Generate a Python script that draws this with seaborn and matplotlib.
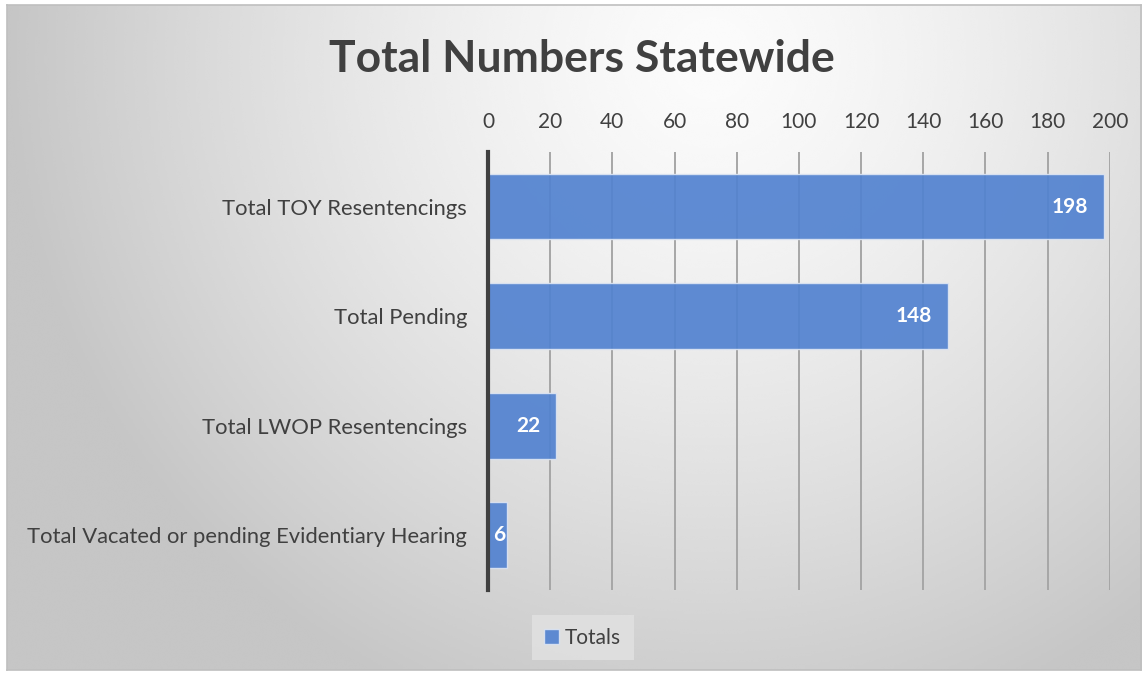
"""Total Numbers Statewide - horizontal bar chart recreated with seaborn."""

import numpy as np
import pandas as pd
import matplotlib.pyplot as plt
import seaborn as sns

categories = [
    "Total TOY Resentencings",
    "Total Pending",
    "Total LWOP Resentencings",
    "Total Vacated or pending Evidentiary Hearing",
]
totals = [198, 148, 22, 6]
series_name = "Totals"
x_ticks = list(range(0, 201, 20))

df = pd.DataFrame({"category": categories, "value": totals})

sns.set_style("white")
plt.rcParams["font.family"] = ["Lato", "DejaVu Sans"]

fig = plt.figure(figsize=(11.47, 6.75), dpi=100)

# radial gradient background: near white around the title, grey at the edges
bg = fig.add_axes([0.006, 0.008, 0.989, 0.984])
h, w = 300, 500
yy, xx = np.mgrid[0:h, 0:w]
dx = xx / w - 0.62
dy = (yy / h - 0.08) * 0.59
d = np.sqrt(dx ** 2 + dy ** 2)
shade = 0.985 - 0.21 * np.clip(d / 0.62, 0, 1) ** 1.4
bg.imshow(shade, cmap="gray", vmin=0, vmax=1, aspect="auto",
          extent=[0, 1, 0, 1], interpolation="bicubic")
bg.set_xticks([])
bg.set_yticks([])
for s in bg.spines.values():
    s.set_color("#BFBFBF")
    s.set_linewidth(1.2)

ax = fig.add_axes([0.4255, 0.126, 0.542, 0.649])
ax.patch.set_alpha(0)

sns.barplot(data=df, x="value", y="category", orient="h", color="#5282D0",
            saturation=1, alpha=0.92, width=0.6, edgecolor="#DCE4F2",
            linewidth=1.0, label=series_name, ax=ax, zorder=3)

ax.set_xlim(0, 200)
ax.set_ylim(3.5, -0.5)
ax.set_xticks(x_ticks)
ax.xaxis.tick_top()
ax.tick_params(axis="x", length=0, labelsize=15, colors="#404040", pad=14)
ax.tick_params(axis="y", length=0, labelsize=15.8, colors="#404040", pad=15)
ax.set_xlabel("")
ax.set_ylabel("")
ax.grid(axis="x", color="#A6A6A6", linewidth=1.4, zorder=0)
ax.grid(axis="y", visible=False)
for side in ["top", "right", "bottom"]:
    ax.spines[side].set_visible(False)
ax.spines["left"].set_color("#404040")
ax.spines["left"].set_linewidth(3)
ax.spines["left"].set_zorder(5)

for i, v in enumerate(totals):
    pos = v - 5.1 if v > 15 else v - 0.5
    ax.text(pos, i, str(v), ha="right", va="center", color="white",
            fontsize=15, fontweight="bold", zorder=6)

fig.text(0.507, 0.913, "Total Numbers Statewide", ha="center", va="center",
         fontsize=32, fontweight="bold", color="#404040")

leg = ax.legend(loc="center", bbox_to_anchor=(0.508, 0.055),
                bbox_transform=fig.transFigure, frameon=True, fontsize=15,
                handlelength=0.7, handleheight=0.7, handletextpad=0.3,
                borderpad=0.6, fancybox=False)
leg.get_frame().set_facecolor("#E2E2E2")
leg.get_frame().set_edgecolor("none")
for t in leg.get_texts():
    t.set_color("#404040")

fig.savefig("out.png", dpi=100)
